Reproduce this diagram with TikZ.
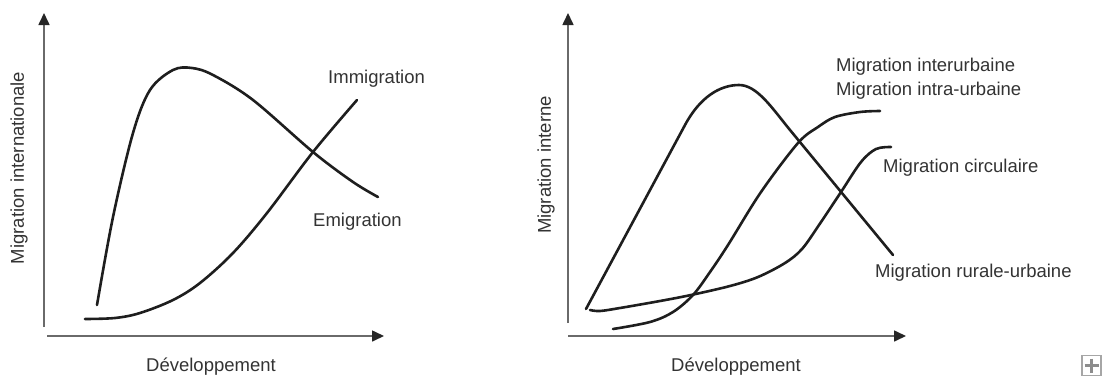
\documentclass[tikz,border=0pt]{standalone}
\usepackage{fontspec}
\setmainfont{Liberation Sans}
\usetikzlibrary{arrows.meta}
\definecolor{txt}{HTML}{333333}
\definecolor{crv}{HTML}{1E1E1E}
\definecolor{axs}{HTML}{6A6A6A}
\tikzset{
  lbl/.style={font=\fontsize{18.5}{22}\selectfont, text=txt, inner sep=0pt, anchor=west},
  axlbl/.style={font=\fontsize{18.5}{22}\selectfont, text=txt, inner sep=0pt},
  axisline/.style={draw=axs, line width=1.6pt, -{Triangle[length=12pt,width=11pt,color=black!85]}},
  curve/.style={draw=crv, line width=2.6pt, line cap=round, line join=round}
}
\begin{document}
\begin{tikzpicture}[x=1pt,y=-1pt]
\useasboundingbox (0,0) rectangle (1102,378);
% ---- left chart ----
\coordinate (l0) at (44,327);
\coordinate (ltop) at (44,13);
\coordinate (lx0) at (47,336);
\coordinate (lxe) at (384,336);
\draw[axisline] (l0) -- (ltop);
\draw[axisline] (lx0) -- (lxe);
\draw[curve] plot[smooth, tension=0.55] coordinates {(97,305) (113,217) (133,133) (150,90) (173,70) (192,68) (213,75) (253,100) (313,152) (353,182) (378,197)};
\draw[curve] plot[smooth, tension=0.55] coordinates {(85,319) (115,318) (140,313) (173,300) (200,283) (233,253) (267,213) (313,152) (357,100)};
\node[lbl] (imm) at (328,79) {Immigration};
\node[lbl] (emi) at (313,222) {Emigration};
\node[axlbl] (ldev) at (211,367) {Développement};
\node[axlbl, rotate=90] (lmig) at (19,168) {Migration internationale};
% ---- right chart ----
\coordinate (r0) at (568,323);
\coordinate (rtop) at (568,13);
\coordinate (rx0) at (568,336);
\coordinate (rxe) at (906,336);
\draw[axisline] (r0) -- (rtop);
\draw[axisline] (rx0) -- (rxe);
\draw[curve] (586,309) -- (685,125) .. controls (700,97) and (720,85) .. (739,85)
  .. controls (757,85) and (772,108) .. (790,130) -- (893,255);
\draw[curve] plot[smooth, tension=0.55] coordinates {(590,310) (600,311) (620,308) (660,301) (691,295) (730,286) (758,277) (785,263) (802,249) (819,225) (841,192) (861,162) (876,149) (891,147)};
\draw[curve] plot[smooth, tension=0.55] coordinates {(613,329) (650,322) (673,312) (693,295) (710,272) (728,245) (761,192) (798,143) (818,127) (835,117) (860,112) (880,111)};
\node[lbl] (inter) at (836,67) {Migration interurbaine};
\node[lbl] (intra) at (836,91) {Migration intra-urbaine};
\node[lbl] (circ) at (883,168) {Migration circulaire};
\node[lbl] (rur) at (875,273) {Migration rurale-urbaine};
\node[axlbl] (rdev) at (736,367) {Développement};
\node[axlbl, rotate=90] (rmig) at (546,165) {Migration interne};
% ---- plus icon ----
\node[draw=black!35, line width=1.3pt, minimum width=19pt, minimum height=20pt, inner sep=0pt] (plus) at (1091.5,365.5) {};
\draw[draw=black!45, line width=3pt] (plus.center) ++(-7,0) -- ++(14,0);
\draw[draw=black!45, line width=3pt] (plus.center) ++(0,-7) -- ++(0,14);
\end{tikzpicture}
\end{document}
